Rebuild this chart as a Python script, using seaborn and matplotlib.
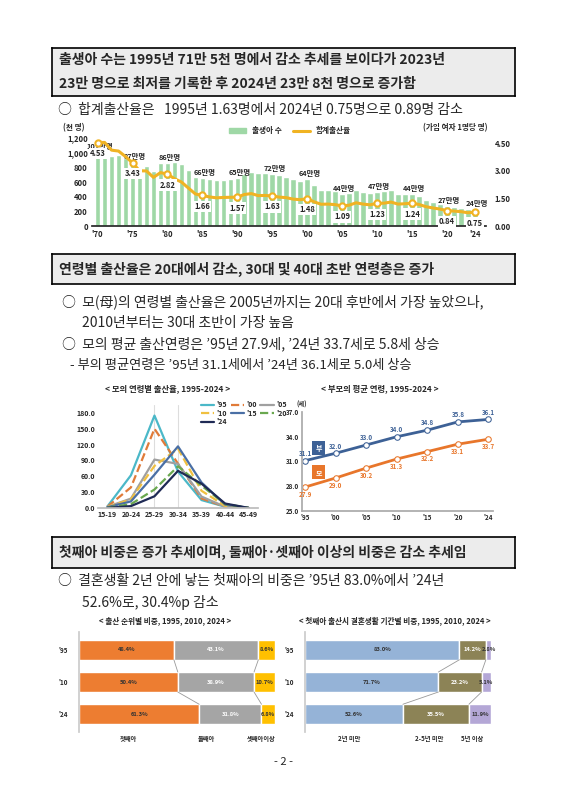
import numpy as np
import pandas as pd
import matplotlib
matplotlib.use("Agg")
import matplotlib.pyplot as plt
from matplotlib.lines import Line2D
from matplotlib.patches import Patch
import seaborn as sns

sns.set_theme(style="white")
plt.rcParams['font.family'] = ['Noto Sans CJK KR', 'DejaVu Sans']
plt.rcParams['axes.unicode_minus'] = False

# ---------- data ----------
years = list(range(1970, 2025))
births = [1007, 1025, 953, 966, 923, 874, 797, 825, 750, 862, 863, 867, 848, 769, 675,
          655, 636, 623, 633, 639, 650, 709, 731, 716, 721, 715, 691, 675, 641, 620,
          640, 560, 497, 495, 477, 438, 451, 497, 466, 445, 470, 471, 485, 437, 435,
          438, 406, 358, 327, 303, 272, 261, 249, 230, 238]
tfr = [4.53, 4.54, 4.12, 4.07, 3.77, 3.43, 3.00, 2.99, 2.64, 2.90, 2.82, 2.57, 2.39, 2.06, 1.74,
       1.66, 1.58, 1.53, 1.55, 1.56, 1.57, 1.71, 1.76, 1.65, 1.66, 1.63, 1.57, 1.54, 1.46, 1.43,
       1.48, 1.31, 1.18, 1.19, 1.16, 1.09, 1.13, 1.26, 1.19, 1.15, 1.23, 1.24, 1.30, 1.19, 1.21,
       1.24, 1.17, 1.05, 0.98, 0.92, 0.84, 0.81, 0.78, 0.72, 0.75]
label_years = [1970, 1975, 1980, 1985, 1990, 1995, 2000, 2005, 2010, 2015, 2020, 2024]
birth_labels = ["101만명", "87만명", "86만명", "66만명", "65만명", "72만명",
                "64만명", "44만명", "47만명", "44만명", "27만명", "24만명"]
tick_years = ["'70", "'75", "'80", "'85", "'90", "'95", "'00", "'05", "'10", "'15", "'20", "'24"]

age_groups = ["15-19", "20-24", "25-29", "30-34", "35-39", "40-44", "45-49"]
asfr = {
    "'95": [3.0, 62.0, 175.0, 69.0, 15.0, 2.5, 0.2],
    "'00": [2.5, 39.0, 150.0, 84.0, 18.0, 2.5, 0.2],
    "'05": [2.3, 17.8, 91.7, 83.5, 21.6, 2.4, 0.1],
    "'10": [1.8, 16.5, 79.7, 112.4, 32.6, 4.1, 0.1],
    "'15": [1.4, 12.5, 63.1, 116.7, 48.3, 6.6, 0.2],
    "'20": [0.6, 7.3, 35.0, 79.0, 42.3, 7.6, 0.2],
    "'24": [0.3, 3.6, 22.2, 70.4, 46.0, 8.5, 0.2],
}
asfr_styles = {"'95": ("#4bb8c8", "-"), "'00": ("#e07b39", "--"), "'05": ("#a0a0a0", "-"),
               "'10": ("#f0c040", "--"), "'15": ("#4a6fa5", "-"), "'20": ("#6aa84f", "--"),
               "'24": ("#1f2a55", "-")}

parent_years = ["'95", "'00", "'05", "'10", "'15", "'20", "'24"]
father_age = [31.1, 32.0, 33.0, 34.0, 34.8, 35.8, 36.1]
mother_age = [27.9, 29.0, 30.2, 31.3, 32.2, 33.1, 33.7]

share_years = ["'95", "'10", "'24"]
order_first = [48.4, 50.4, 61.3]
order_second = [43.1, 38.9, 31.8]
order_third = [8.6, 10.7, 6.8]
dur_lt2 = [83.0, 71.7, 52.6]
dur_2to5 = [14.2, 23.2, 35.5]
dur_5plus = [2.8, 5.1, 11.9]

W, H = 566, 800
fig = plt.figure(figsize=(W / 100, H / 100), dpi=100)


def axpos(x0, y0, x1, y1):
    return [x0 / W, 1 - y1 / H, (x1 - x0) / W, (y1 - y0) / H]


def heading(y0, y1, lines):
    box = fig.add_axes(axpos(52, y0, 515, y1))
    box.set_facecolor("#ececec")
    box.set_xticks([]); box.set_yticks([])
    for s in box.spines.values():
        s.set_color("black"); s.set_linewidth(1.2)
    n = len(lines)
    for i, t in enumerate(lines):
        box.text(0.015, 1 - (i + 0.5) / n, t, fontsize=10, fontweight="bold", va="center", ha="left")


def txt(x, y, s, size=10, **kw):
    fig.text(x / W, 1 - y / H, s, fontsize=size, va="center", **kw)


# ---------- section 1 ----------
heading(48, 96, ["출생아 수는 1995년 71만 5천 명에서 감소 추세를 보이다가 2023년",
                 "23만 명으로 최저를 기록한 후 2024년 23만 8천 명으로 증가함"])
txt(58, 110, "○  합계출산율은   1995년 1.63명에서 2024년 0.75명으로 0.89명 감소", 10)

ax1 = fig.add_axes(axpos(92, 138, 486, 226))
df1 = pd.DataFrame({"year": years, "births": births, "tfr": tfr})
sns.barplot(data=df1, x="year", y="births", color="#9fd8a6", saturation=1, width=0.8, ax=ax1)
ax1.set_ylim(0, 1200)
ax1.set_yticks(range(0, 1201, 200))
ax1.set_yticklabels([f"{v:,}" for v in range(0, 1201, 200)], fontsize=5.5, fontweight="bold")
pos = [years.index(y) for y in label_years]
ax1.set_xticks(pos)
ax1.set_xticklabels(tick_years, fontsize=5.5, fontweight="bold")
ax1.set_xlabel(""); ax1.set_ylabel("")
ax1.tick_params(length=0, pad=3)
for s in ["top", "right", "left"]:
    ax1.spines[s].set_visible(False)
ax1.set_xlim(-0.8, len(years) + 0.6)
for p, lbl, y in zip(pos, birth_labels, label_years):
    ax1.text(p + 0.3, births[years.index(y)] + 25, lbl, fontsize=5.3, fontweight="bold",
             ha="center", va="bottom")

ax1b = ax1.twinx()
ax1b.plot(range(len(years)), tfr, color="#f0b323", lw=2.2)
ax1b.plot(pos, [tfr[p] for p in pos], "o", color="white", mec="#f0b323", mew=1.5, ms=4.5)
ax1b.set_ylim(0, 4.78)
ax1b.set_yticks([0, 1.5, 3.0, 4.5])
ax1b.set_yticklabels(["0.00", "1.50", "3.00", "4.50"], fontsize=5.5, fontweight="bold")
ax1b.tick_params(length=0, pad=6)
for s in ax1b.spines.values():
    s.set_visible(False)
ax1b.grid(False)
for p in pos:
    ax1b.text(p, tfr[p] - 0.35, f"{tfr[p]:.2f}", fontsize=5.5, fontweight="bold", ha="center", va="top",
              bbox=dict(facecolor="white", edgecolor="none", pad=0.8))
txt(63, 128, "(천 명)", 5.5, fontweight="bold")
txt(455, 128, "(가임 여자 1명당 명)", 5.5, fontweight="bold", ha="center")
fig.legend(handles=[Patch(color="#9fd8a6", label="출생아 수"),
                    Line2D([], [], color="#f0b323", lw=2.2, label="합계출산율")],
           loc="center", bbox_to_anchor=(290 / W, 1 - 131 / H), ncol=2, frameon=False,
           prop={"weight": "bold", "size": 5.5}, handlelength=2.2, handleheight=0.6,
           columnspacing=1.5)

# ---------- section 2 ----------
heading(254, 284, ["연령별 출산율은 20대에서 감소, 30대 및 40대 초반 연령층은 증가"])
txt(62, 302, "○  모(母)의 연령별 출산율은 2005년까지는 20대 후반에서 가장 높았으나,", 10)
txt(82, 323, "2010년부터는 30대 초반이 가장 높음", 10)
txt(62, 344, "○  모의 평균 출산연령은 ’95년 27.9세, ’24년 33.7세로 5.8세 상승", 10)
txt(70, 365, "- 부의 평균연령은 ’95년 31.1세에서 ’24년 36.1세로 5.0세 상승", 9.5)

txt(168, 389, "< 모의 연령별 출산율, 1995-2024 >", 6, fontweight="bold", ha="center")
txt(380, 389, "< 부모의 평균 연령, 1995-2024 >", 6, fontweight="bold", ha="center")

ax2 = fig.add_axes(axpos(98, 405, 258, 508))
long = pd.DataFrame([(k, a, v) for k, vals in asfr.items() for a, v in zip(age_groups, vals)],
                    columns=["year", "age", "rate"])
for k in asfr:
    c, ls = asfr_styles[k]
    sub = long[long.year == k]
    sns.lineplot(x=np.arange(len(age_groups)), y=sub["rate"].values, color=c, linestyle=ls,
                 lw=1.6, ax=ax2, label=k)
ax2.set_ylim(0, 195)
ax2.set_yticks(np.arange(0, 181, 30))
ax2.set_yticklabels([f"{v:.1f}" for v in np.arange(0, 181, 30)], fontsize=5, fontweight="bold")
ax2.set_xticks(range(len(age_groups)))
ax2.set_xticklabels(age_groups, fontsize=5, fontweight="bold")
ax2.set_xlim(-0.4, 6.4)
ax2.tick_params(length=0, pad=2)
for s in ["top", "right", "left"]:
    ax2.spines[s].set_visible(False)
ax2.spines["bottom"].set_color("#bbbbbb")
ax2.axvline(2, color="#dddddd", lw=0.8, zorder=0)
ax2.axvline(3, color="#dddddd", lw=0.8, zorder=0)
h, l = ax2.get_legend_handles_labels()
idx = [0, 3, 6, 1, 4, 2, 5]  # column-wise fill -> rows '95 '00 '05 / '10 '15 '20 / '24
ax2.legend([h[i] for i in idx], [l[i] for i in idx], ncol=3, frameon=False, loc="upper right",
           bbox_to_anchor=(1.22, 1.1), handlelength=2.0, handletextpad=0.3, columnspacing=0.5,
           labelspacing=0.25, prop={"weight": "bold", "size": 5})

ax3 = fig.add_axes(axpos(302, 412, 493, 511))
xp = np.arange(len(parent_years))
sns.lineplot(x=xp, y=father_age, color="#3d6196", lw=2, marker="o", mfc="white", mec="#3d6196",
             ms=4, ax=ax3)
sns.lineplot(x=xp, y=mother_age, color="#e8762b", lw=2, marker="o", mfc="white", mec="#e8762b",
             ms=4, ax=ax3)
for i in range(len(xp)):
    ax3.text(xp[i], father_age[i] + 0.45, f"{father_age[i]:.1f}", fontsize=4.5, color="#3d6196",
             ha="center", va="bottom", fontweight="bold")
    ax3.text(xp[i], mother_age[i] - 0.45, f"{mother_age[i]:.1f}", fontsize=4.5, color="#e8762b",
             ha="center", va="top", fontweight="bold")
ax3.set_ylim(25, 37)
ax3.set_yticks([25, 28, 31, 34, 37])
ax3.set_yticklabels(["25.0", "28.0", "31.0", "34.0", "37.0"], fontsize=4.5, fontweight="bold")
ax3.set_xticks(xp)
ax3.set_xticklabels(parent_years, fontsize=4.5, fontweight="bold")
ax3.set_xlim(-0.1, 6.15)
ax3.tick_params(length=0, pad=2)
for s in ["top", "right"]:
    ax3.spines[s].set_visible(False)
for s in ["left", "bottom"]:
    ax3.spines[s].set_color("#aaaaaa")
ax3.text(0.45, 32.6, "부", fontsize=5, color="white", ha="center", va="center", fontweight="bold",
         bbox=dict(facecolor="#3d6196", edgecolor="none", boxstyle="square,pad=0.5"))
ax3.text(0.45, 29.7, "모", fontsize=5, color="white", ha="center", va="center", fontweight="bold",
         bbox=dict(facecolor="#e8762b", edgecolor="none", boxstyle="square,pad=0.5"))
txt(296, 404, "(세)", 4.5, fontweight="bold")

# ---------- section 3 ----------
heading(537, 568, ["첫째아 비중은 증가 추세이며, 둘째아·셋째아 이상의 비중은 감소 추세임"])
txt(58, 581, "○  결혼생활 2년 안에 낳는 첫째아의 비중은 ’95년 83.0%에서 ’24년", 10)
txt(82, 603, "52.6%로, 30.4%p 감소", 10)
txt(165, 621, "< 출산 순위별 비중, 1995, 2010, 2024 >", 5.5, fontweight="bold", ha="center")
txt(395, 621, "< 첫째아 출산시 결혼생활 기간별 비중, 1995, 2010, 2024 >", 5.5, fontweight="bold", ha="center")


def stacked(rect, parts, colors, txtcolors, legend, legend_x):
    ax = fig.add_axes(rect)
    yp = np.arange(len(share_years))
    left = np.zeros(len(share_years))
    edges = []
    for vals, c, tc in zip(parts, colors, txtcolors):
        vals = np.array(vals)
        ax.barh(yp, vals, left=left, color=c, height=0.62)
        for i in range(len(yp)):
            ax.text(left[i] + vals[i] / 2, yp[i], f"{vals[i]:.1f}%", fontsize=4.2, color=tc,
                    ha="center", va="center", fontweight="bold")
        left = left + vals
        edges.append(left.copy())
    for e in edges[:-1]:
        for i in range(len(yp) - 1):
            ax.plot([e[i], e[i + 1]], [yp[i] + 0.31, yp[i + 1] - 0.31], color="#999999", lw=0.6)
    ax.set_ylim(2.55, -0.55)
    ax.set_xlim(0, 100.5)
    ax.set_yticks(yp)
    ax.set_yticklabels(share_years, fontsize=4.5, fontweight="bold")
    ax.set_xticks([])
    ax.tick_params(length=0, pad=8)
    for s in ["top", "right", "bottom"]:
        ax.spines[s].set_visible(False)
    ax.spines["left"].set_color("#cccccc")
    for lbl, x in zip(legend, legend_x):
        ax.text(x, 2.75, lbl, fontsize=4.5, ha="center", va="center", fontweight="bold")
    return ax


stacked(axpos(79, 632, 276, 732), [order_first, order_second, order_third],
        ["#ed7d31", "#a5a5a5", "#ffc000"], ["#333333", "white", "#333333"],
        ["첫째아", "둘째아", "셋째아이상"], [25, 65, 93])
stacked(axpos(305, 632, 492, 732), [dur_lt2, dur_2to5, dur_5plus],
        ["#95b3d7", "#8c8356", "#b4a7d6"], ["#333333", "white", "#333333"],
        ["2년 미만", "2-5년 미만", "5년 이상"], [24, 67, 90])

txt(283, 762, "- 2 -", 8, ha="center")

fig.savefig("out.png", dpi=100)
